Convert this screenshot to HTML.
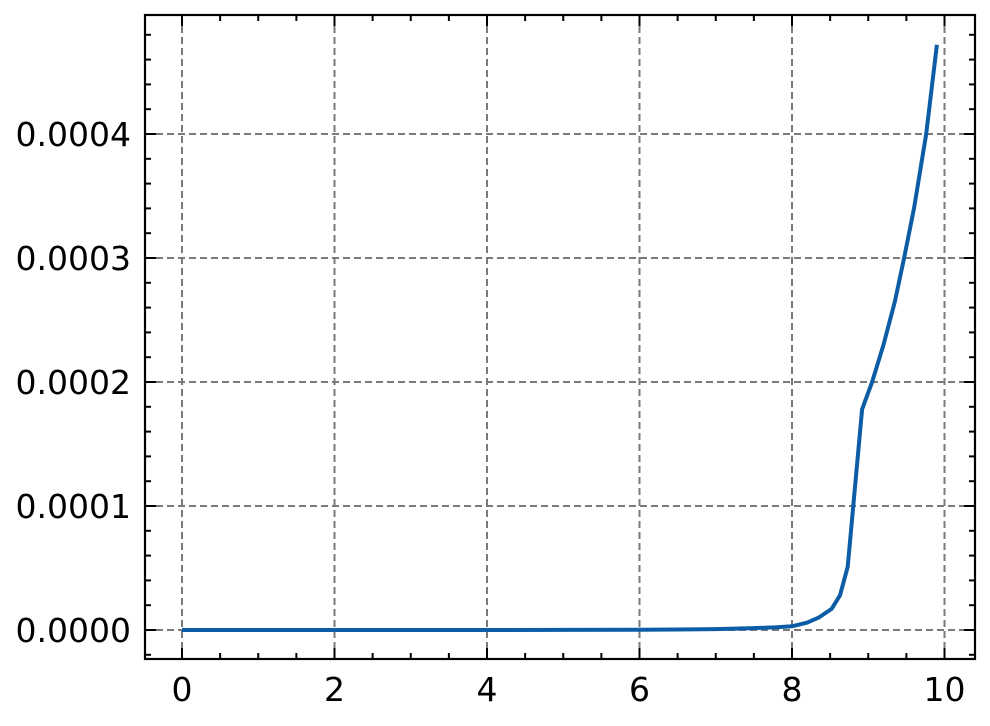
<!DOCTYPE html>
<html><head><meta charset="utf-8"><style>
html,body{margin:0;padding:0;background:#fff;}
svg{display:block;font-family:"DejaVu Sans","Liberation Sans",sans-serif;}
</style></head><body>
<svg id="chart" width="990" height="726" viewBox="0 0 990 726"></svg>
<script>
const xTicks=[0,2,4,6,8,10];
const yTicks=[0,0.0001,0.0002,0.0003,0.0004];
const yTickLabels=["0.0000","0.0001","0.0002","0.0003","0.0004"];
const seriesX=[0,1,2,3,4,5,6,6.5,7,7.5,7.8,8.0,8.2,8.35,8.52,8.63,8.73,8.92,9.05,9.2,9.35,9.47,9.6,9.76,9.9];
const seriesY=[0,0,0,0,0,0.00000005,0.0000002,0.0000004,0.0000007,0.0000015,0.0000022,0.000003,0.000006,0.00001,0.000017,0.000028,0.000051,0.000178,0.0002,0.00023,0.000265,0.0003,0.00034,0.0004,0.000472];
const L=145,R=975,T=15,B=659;
const sx=v=>182+(v-0)*76.25;
const sy=v=>630-v*1240000;
const NS="http://www.w3.org/2000/svg";
const svg=document.getElementById('chart');
function mk(t,a){const e=document.createElementNS(NS,t);for(const k in a)e.setAttribute(k,a[k]);svg.appendChild(e);return e;}
xTicks.forEach(v=>{const l=mk('line',{x1:sx(v),x2:sx(v),y1:T,y2:B,stroke:'#7a7a7a','stroke-width':2,'stroke-dasharray':'7,4'});

});
yTicks.forEach(v=>{const l=mk('line',{x1:L,x2:R,y1:sy(v),y2:sy(v),stroke:'#7a7a7a','stroke-width':2,'stroke-dasharray':'7,4'});

});
const d=seriesX.map((x,i)=>(i?'L':'M')+sx(x).toFixed(1)+','+sy(seriesY[i]).toFixed(1)).join(' ');
const p=mk('path',{d:d,fill:'none',stroke:'#0C5DA5','stroke-width':4,'stroke-linejoin':'round'});


const f=mk('rect',{x:L,y:T,width:R-L,height:B-T,fill:'none',stroke:'#000','stroke-width':2.2});


for(let v=-0.5;v<=10.5;v+=0.5){const x=sx(v);if(x<L||x>R)continue;const maj=Math.abs(v%2)<1e-9;const len=maj?11:6;
mk('line',{x1:x,x2:x,y1:B,y2:B-len,stroke:'#000','stroke-width':2});mk('line',{x1:x,x2:x,y1:T,y2:T+len,stroke:'#000','stroke-width':2});}
xTicks.forEach(v=>{const t=mk('text',{x:sx(v),y:701,'text-anchor':'middle','font-size':33,fill:'#000'});t.textContent=String(v);

});
for(let k=-1;k<=24;k++){const v=k*0.00002;const y=sy(v);if(y<T||y>B)continue;const maj=k%5===0;const len=maj?11:6;
mk('line',{x1:L,x2:L+len,y1:y,y2:y,stroke:'#000','stroke-width':2});mk('line',{x1:R,x2:R-len,y1:y,y2:y,stroke:'#000','stroke-width':2});}
yTicks.forEach((v,i)=>{const t=mk('text',{x:131,y:sy(v)+12,'text-anchor':'end','font-size':33,fill:'#000'});t.textContent=yTickLabels[i];

});
</script>
</body></html>
